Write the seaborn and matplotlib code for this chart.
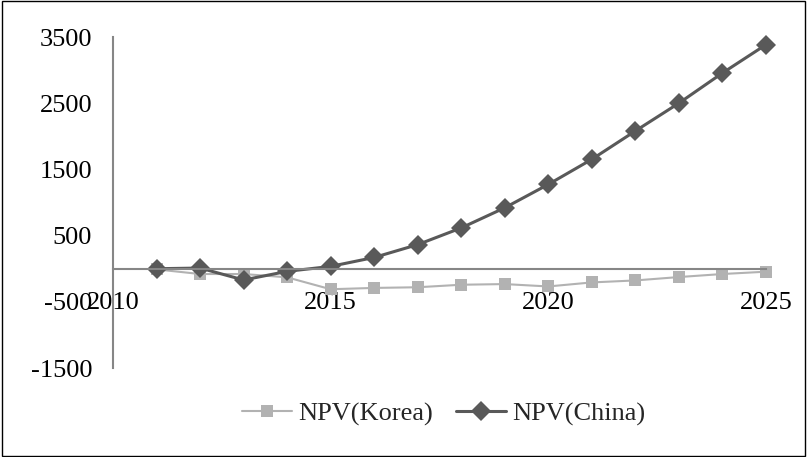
import pandas as pd
import matplotlib.pyplot as plt
import seaborn as sns
from matplotlib.patches import Rectangle

# values
years = list(range(2011, 2026))
npv_korea = [-10, -80, -80, -130, -310, -290, -280, -242, -232, -268, -207, -177, -126, -80, -45]
npv_china = [0, 10, -170, -40, 35, 170, 364, 616, 920, 1273, 1652, 2080, 2500, 2955, 3383]
y_ticks = [-1500, -500, 500, 1500, 2500, 3500]
x_ticks = [2010, 2015, 2020, 2025]

sns.set_style("white")
plt.rcParams['font.family'] = ['Liberation Serif', 'DejaVu Serif']
plt.rcParams['axes.unicode_minus'] = False

fig = plt.figure(figsize=(8.07, 4.57), dpi=100)
ax = fig.add_axes([0.140, 0.1947, 0.809, 0.7243])

sns.lineplot(x=years, y=npv_korea, ax=ax, color='#b2b2b2', linewidth=1.5,
             marker='s', markersize=8, markeredgewidth=0, label='NPV(Korea)', clip_on=False)
sns.lineplot(x=years, y=npv_china, ax=ax, color='#595959', linewidth=2.2,
             marker='D', markersize=10, markeredgewidth=0, label='NPV(China)', clip_on=False)

ax.set_xlim(2010, 2025)
ax.set_ylim(-1500, 3500)
ax.set_xticks(x_ticks)
ax.set_yticks(y_ticks)
ax.tick_params(axis='both', length=0, labelsize=19, colors='black')
ax.tick_params(axis='y', pad=15)
ax.tick_params(axis='x', pad=17)

# Excel-style axes: horizontal axis crosses at 0
for s in ['top', 'right']:
    ax.spines[s].set_visible(False)
ax.spines['bottom'].set_position(('data', 0))
ax.spines['left'].set_color('#868686')
ax.spines['bottom'].set_color('#868686')
ax.spines['left'].set_linewidth(1.5)
ax.spines['bottom'].set_linewidth(1.5)

ax.legend(loc='center', bbox_to_anchor=(0.55, 0.095), bbox_transform=fig.transFigure,
          ncol=2, frameon=False, fontsize=19, handlelength=1.9, handletextpad=0.25,
          columnspacing=0.85)

# outer chart border
fig.patches.append(Rectangle((0.002, 0.002), 0.996, 0.996, transform=fig.transFigure,
                             fill=False, edgecolor='black', linewidth=1))

fig.savefig('out.png', dpi=100)
